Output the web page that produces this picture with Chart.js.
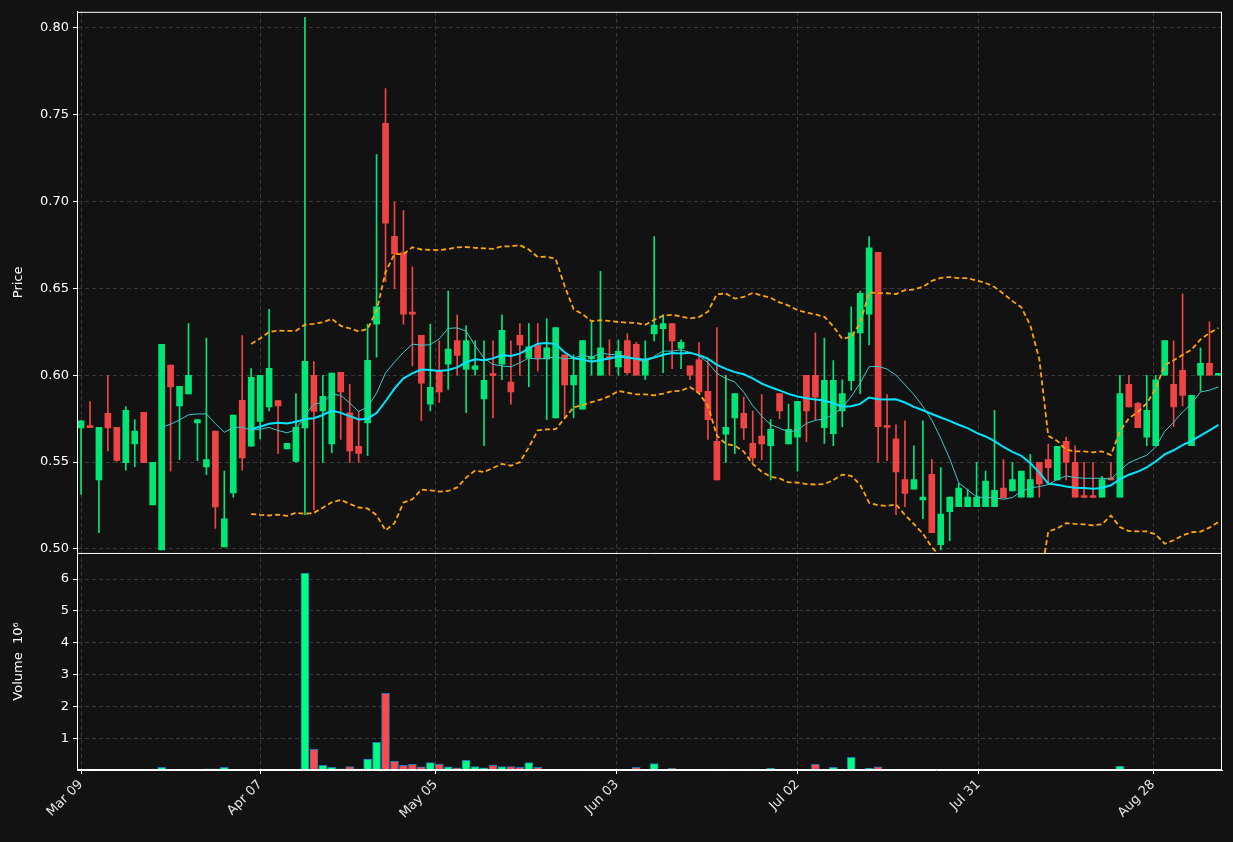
<!DOCTYPE html>
<html>
<head>
<meta charset="utf-8">
<script src="https://cdn.jsdelivr.net/npm/chart.js"></script>
<style>
  html, body { margin: 0; padding: 0; background: #121212; }
  #wrap { width: 1233px; height: 842px; }
</style>
</head>
<body>
<div id="wrap"><canvas id="chart" width="1233" height="842"></canvas></div>
<script>
const opens = [.5696,.5700,.5398,.5780,.5700,.5496,.5604,.5786,.5254,.4994,.6058,.5824,.5892,.5726,.5472,.5678,.5012,.5322,.5856,.5592,
  .5734,.5818,.5854,.5576,.5504,.5696,.6000,.5794,.5604,.6016,.5784,.5590,.5726,.6294,.7450,.6800,.6704,.6354,.6230,.5834,
  .6024,.6064,.6200,.6034,.6034,.5864,.6000,.6064,.5960,.6230,.6098,.6174,.6094,.5754,.6118,.5944,.5804,.6094,.6000,.6108,
  .6048,.6200,.6178,.6000,.6238,.6268,.6298,.6154,.6054,.6088,.5908,.5620,.5660,.5754,.5780,.5608,.5650,.5594,.5894,.5604,
  .5644,.6000,.6000,.5698,.5664,.5794,.5968,.6244,.6352,.6708,.5702,.5634,.5400,.5344,.5282,.5430,.5024,.5214,.5244,.5244,
  .5244,.5244,.5244,.5350,.5334,.5298,.5298,.5498,.5514,.5398,.5620,.5498,.5298,.5298,.5298,.5400,.5298,.5948,.5838,.5644,
  .5594,.6000,.5948,.6028,.5594,.6000,.6068,.6000];
const highs = [.5738,.5848,.5700,.5998,.5700,.5820,.5744,.5786,.5498,.6178,.6058,.5936,.6298,.5744,.6214,.5678,.5448,.5770,.6228,.6038,
  .6000,.6380,.5854,.5608,.5894,.8060,.6078,.6000,.6012,.6016,.5948,.5794,.6294,.7270,.7650,.6998,.6948,.6624,.6230,.6294,
  .6198,.6484,.6348,.6284,.6198,.6198,.6198,.6348,.6198,.6298,.6298,.6298,.6324,.6274,.6118,.6118,.6200,.6308,.6598,.6204,
  .6204,.6238,.6190,.6198,.6798,.6348,.6298,.6204,.6054,.6188,.6094,.6274,.6000,.5894,.5874,.5794,.5888,.5744,.5894,.5834,
  .5850,.6000,.6244,.6214,.6084,.5974,.6394,.6484,.6798,.6708,.5888,.5714,.5738,.5594,.5738,.5514,.5468,.5298,.5378,.5344,
  .5498,.5448,.5798,.5514,.5498,.5448,.5544,.5498,.5604,.5590,.5644,.5594,.5498,.5498,.5418,.5498,.6000,.6000,.5844,.6000,
  .6000,.6200,.6198,.6468,.5884,.6158,.6308,.6002];
const lows = [.5314,.5698,.5094,.5564,.5504,.5454,.5474,.5496,.5254,.4994,.5448,.5514,.5892,.5508,.5428,.5118,.5012,.5298,.5454,.5592,
  .5634,.5794,.5548,.5576,.5498,.5198,.5224,.5498,.5554,.5630,.5498,.5498,.5538,.6104,.6538,.6498,.6294,.6054,.5738,.5794,
  .5844,.5918,.6000,.5784,.6000,.5594,.5754,.5974,.5834,.6000,.5934,.6024,.5744,.5754,.5754,.5754,.5804,.6000,.6000,.6000,
  .6000,.6004,.6000,.5974,.6198,.6014,.6038,.6038,.5974,.5904,.5630,.5398,.5498,.5548,.5630,.5498,.5514,.5398,.5750,.5604,
  .5448,.5618,.5744,.5608,.5594,.5704,.5914,.5894,.6174,.5498,.5508,.5198,.5244,.5344,.5174,.5094,.4994,.5048,.5244,.5244,
  .5244,.5244,.5244,.5294,.5334,.5298,.5298,.5298,.5374,.5398,.5398,.5298,.5296,.5296,.5298,.5398,.5298,.5818,.5698,.5594,
  .5594,.6000,.5704,.5824,.5594,.5908,.6000,.6000];
const closes = [.5738,.5698,.5700,.5696,.5510,.5798,.5678,.5496,.5498,.6178,.5932,.5936,.6000,.5744,.5514,.5242,.5174,.5770,.5524,.5988,
  .6000,.6040,.5824,.5608,.5700,.6080,.5792,.5878,.6012,.5904,.5564,.5550,.6086,.6394,.6876,.6698,.6352,.6352,.5954,.5930,
  .5904,.6150,.6114,.6200,.6054,.5970,.5998,.6258,.5904,.6174,.6164,.6098,.6158,.6274,.5944,.6000,.6200,.6108,.6158,.6094,
  .6138,.6014,.6000,.6088,.6288,.6298,.6198,.6190,.6000,.5904,.5744,.5398,.5700,.5894,.5696,.5524,.5604,.5688,.5794,.5688,
  .5850,.5794,.5874,.5970,.5970,.5894,.6244,.6472,.6734,.5704,.5700,.5444,.5320,.5400,.5298,.5094,.5200,.5298,.5350,.5298,
  .5298,.5390,.5338,.5294,.5400,.5448,.5400,.5374,.5468,.5590,.5498,.5298,.5296,.5296,.5400,.5398,.5894,.5818,.5698,.5798,
  .5974,.6200,.5818,.5884,.5884,.6068,.6000,.6002];
// volume in millions
const volumes = [.02,.03,.02,.01,.01,.005,.005,.005,.005,.08,.02,.005,.005,.005,.04,.04,.08,.005,.005,.005,
  .02,.01,.005,.005,.005,6.19,.65,.15,.08,.04,.11,.04,.34,.87,2.41,.27,.15,.18,.10,.23,
  .18,.10,.07,.30,.11,.07,.15,.11,.11,.08,.23,.08,.02,.01,.005,.01,.005,.03,.005,.02,
  .005,.005,.08,.02,.20,.01,.06,.005,.005,.005,.01,.03,.02,.02,.005,.03,.005,.05,.005,.005,
  .005,.02,.18,.01,.08,.01,.40,.01,.05,.10,.02,.005,.005,.005,.005,.005,.005,.005,.005,.005,
  .005,.005,.005,.005,.005,.005,.005,.005,.01,.005,.005,.005,.005,.005,.005,.005,.12,.005,.005,.005,
  .005,.02,.005,.005,.005,.005,.005,.005];
const tickPos = [0, 20, 39.6, 59.8, 80, 100.2, 119.7];
const tickLabels = ['Mar 09', 'Apr 07', 'May 05', 'Jun 03', 'Jul 02', 'Jul 31', 'Aug 28'];

const UP = '#00e676', DOWN = '#ef4444';
const VUP = '#00ff80', VDOWN = '#ff4a4a';

function sma(arr, n) {
  return arr.map((_, i) => {
    if (i < n - 1) return null;
    let s = 0;
    for (let k = i - n + 1; k <= i; k++) s += arr[k];
    return s / n;
  });
}
function band(arr, n, mult) {
  const m = sma(arr, n);
  return arr.map((_, i) => {
    if (m[i] === null) return null;
    let v = 0;
    for (let k = i - n + 1; k <= i; k++) v += (arr[k] - m[i]) ** 2;
    return m[i] + mult * Math.sqrt(v / n);
  });
}
const ma10 = sma(closes, 10), ma20 = sma(closes, 20);
const bbUp = band(closes, 20, 2), bbLo = band(closes, 20, -2);

const up = closes.map((c, i) => c >= opens[i]);
const pts = a => a.map((v, i) => ({ x: i, y: v }));

const frame = {
  id: 'frame',
  afterDraw(chart) {
    const { ctx, chartArea: a, scales } = chart;
    const split = scales.y.bottom;
    ctx.save();
    ctx.strokeStyle = '#ffffff';
    ctx.lineWidth = 1;
    ctx.strokeRect(a.left + 0.5, a.top + 0.5, a.width - 1, a.height - 1);
    ctx.beginPath();
    ctx.moveTo(a.left, split + 0.5);
    ctx.lineTo(a.right, split + 0.5);
    ctx.stroke();
    ctx.restore();
  }
};

const grid = { color: '#3a3a3a', tickColor: '#ffffff', tickLength: 4, drawTicks: true, offset: false };
const border = { color: '#ffffff', dash: [4, 3] };

new Chart(document.getElementById('chart'), {
  type: 'bar',
  data: {
    datasets: [
      { type: 'line', data: pts(bbUp), borderColor: '#ffa500', borderWidth: 1.8, borderDash: [5, 3],
        pointRadius: 0, yAxisID: 'y', clip: 0 },
      { type: 'line', data: pts(bbLo), borderColor: '#ffa500', borderWidth: 1.8, borderDash: [5, 3],
        pointRadius: 0, yAxisID: 'y', clip: 0 },
      { type: 'line', data: pts(ma10), borderColor: '#40c8c8', borderWidth: 1, pointRadius: 0,
        yAxisID: 'y', clip: 0 },
      { type: 'line', data: pts(ma20), borderColor: '#00e5ff', borderWidth: 2, pointRadius: 0,
        yAxisID: 'y', clip: 0 },
      { data: lows.map((l, i) => ({ x: i, y: [l, highs[i]] })), backgroundColor: up.map(u => u ? UP : DOWN),
        barThickness: 1, grouped: false, yAxisID: 'y', clip: 0 },
      { data: opens.map((o, i) => ({ x: i, y: [o, closes[i]] })), backgroundColor: up.map(u => u ? UP : DOWN),
        barThickness: 6, minBarLength: 2, grouped: false, yAxisID: 'y', clip: 0 },
      { data: volumes.map((v, i) => ({ x: i, y: v })), backgroundColor: up.map(u => u ? VUP : VDOWN),
        borderColor: '#1f77b4', borderWidth: 1, barThickness: 8, grouped: false, yAxisID: 'yv' }
    ]
  },
  options: {
    responsive: false,
    animation: false,
    events: [],
    layout: { padding: { top: 11, right: 11, left: 9, bottom: 0 } },
    plugins: { legend: { display: false }, tooltip: { enabled: false } },
    scales: {
      x: {
        type: 'linear', min: -0.45, max: 127.4, offset: false,
        afterBuildTicks: s => { s.ticks = tickPos.map(v => ({ value: v })); },
        afterFit: s => { s.height = 72; },
        grid, border: { color: '#ffffff', dash: [4, 3] },
        ticks: { color: '#e6e6e6', font: { family: 'DejaVu Sans', size: 13 }, minRotation: 45, maxRotation: 45,
          autoSkip: false, callback: (v, i) => tickLabels[i] }
      },
      yv: {
        type: 'linear', position: 'left', stack: 'panels', stackWeight: 217, min: 0, max: 6.82,
        afterBuildTicks: s => { s.ticks = [1, 2, 3, 4, 5, 6].map(v => ({ value: v })); },
        afterFit: s => { s.width = 68; },
        grid, border,
        title: { display: true, text: 'Volume  10⁶', color: '#ffffff', font: { family: 'DejaVu Sans', size: 13 }, padding: 2 },
        ticks: { color: '#ffffff', font: { family: 'DejaVu Sans', size: 13 }, padding: 4 }
      },
      y: {
        type: 'linear', position: 'left', stack: 'panels', stackWeight: 541, min: 0.4977, max: 0.8092,
        afterBuildTicks: s => { s.ticks = [0.5, 0.55, 0.6, 0.65, 0.7, 0.75, 0.8].map(v => ({ value: v })); },
        afterFit: s => { s.width = 68; },
        grid, border,
        title: { display: true, text: 'Price', color: '#ffffff', font: { family: 'DejaVu Sans', size: 13 }, padding: 2 },
        ticks: { color: '#ffffff', font: { family: 'DejaVu Sans', size: 13 }, padding: 4, callback: v => v.toFixed(2) }
      }
    }
  },
  plugins: [frame]
});
</script>
</body>
</html>
